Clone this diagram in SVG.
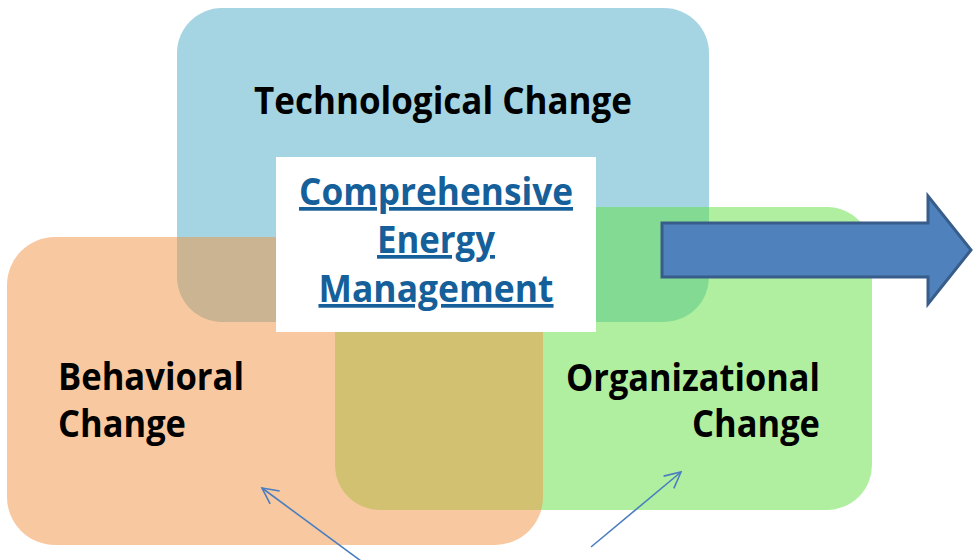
<svg xmlns="http://www.w3.org/2000/svg" width="974" height="560" viewBox="0 0 974 560">
  <defs>
    <style>
      .lbl { font-family: "Open Sans", "Liberation Sans", sans-serif; font-weight: bold; font-size: 37px; fill: #000; }
      .core { font-family: "Open Sans", "Liberation Sans", sans-serif; font-weight: bold; font-size: 37px; fill: #155F9A; text-decoration: underline; }
      .pointer { fill: none; stroke: #4A7EC0; stroke-width: 1.6; }
    </style>
    <marker id="openHead" viewBox="0 0 20 20" refX="18" refY="10" markerWidth="20" markerHeight="20" markerUnits="userSpaceOnUse" orient="auto">
      <path d="M2,2 L18,10 L2,18" fill="none" stroke="#4A7EC0" stroke-width="1.6"/>
    </marker>
  </defs>
  <rect width="974" height="560" fill="#FFFFFF"/>

  <g id="technological">
    <rect x="177" y="8" width="532" height="314" rx="45" ry="45" fill="#A5D5E2"/>
  </g>
  <g id="organizational">
    <rect x="335" y="207" width="537" height="303" rx="45" ry="45" fill="#61DF41" fill-opacity="0.5"/>
  </g>
  <g id="behavioral">
    <rect x="7" y="237" width="536" height="308" rx="48" ry="48" fill="#F19341" fill-opacity="0.5"/>
  </g>

  <g id="technological-label">
    <text class="lbl" x="443" y="114" text-anchor="middle" textLength="378" lengthAdjust="spacingAndGlyphs">Technological Change</text>
  </g>
  <g id="behavioral-label">
    <text class="lbl" x="58" y="390" textLength="186" lengthAdjust="spacingAndGlyphs">Behavioral</text>
    <text class="lbl" x="58" y="437" textLength="128" lengthAdjust="spacingAndGlyphs">Change</text>
  </g>
  <g id="organizational-label">
    <text class="lbl" x="820" y="391" text-anchor="end" textLength="254" lengthAdjust="spacingAndGlyphs">Organizational</text>
    <text class="lbl" x="820" y="437" text-anchor="end" textLength="128" lengthAdjust="spacingAndGlyphs">Change</text>
  </g>

  <g id="comprehensive">
    <rect x="276" y="157" width="320" height="175" fill="#FFFFFF"/>
    <text class="core" x="436" y="205" text-anchor="middle" textLength="274" lengthAdjust="spacingAndGlyphs">Comprehensive</text>
    <text class="core" x="436" y="253" text-anchor="middle" textLength="118" lengthAdjust="spacingAndGlyphs">Energy</text>
    <text class="core" x="436" y="302" text-anchor="middle" textLength="235" lengthAdjust="spacingAndGlyphs">Management</text>
  </g>

  <g id="outcome-arrow">
    <polygon points="662,223 928,223 928,196 971,250 928,304 928,277 662,277" fill="#4F81BD" stroke="#385D8A" stroke-width="3" stroke-linejoin="miter"/>
  </g>

  <g id="connectors">
    <line class="pointer" x1="361" y1="561" x2="262" y2="488" marker-end="url(#openHead)"/>
    <line class="pointer" x1="591" y1="547" x2="681" y2="472" marker-end="url(#openHead)"/>
  </g>
</svg>
